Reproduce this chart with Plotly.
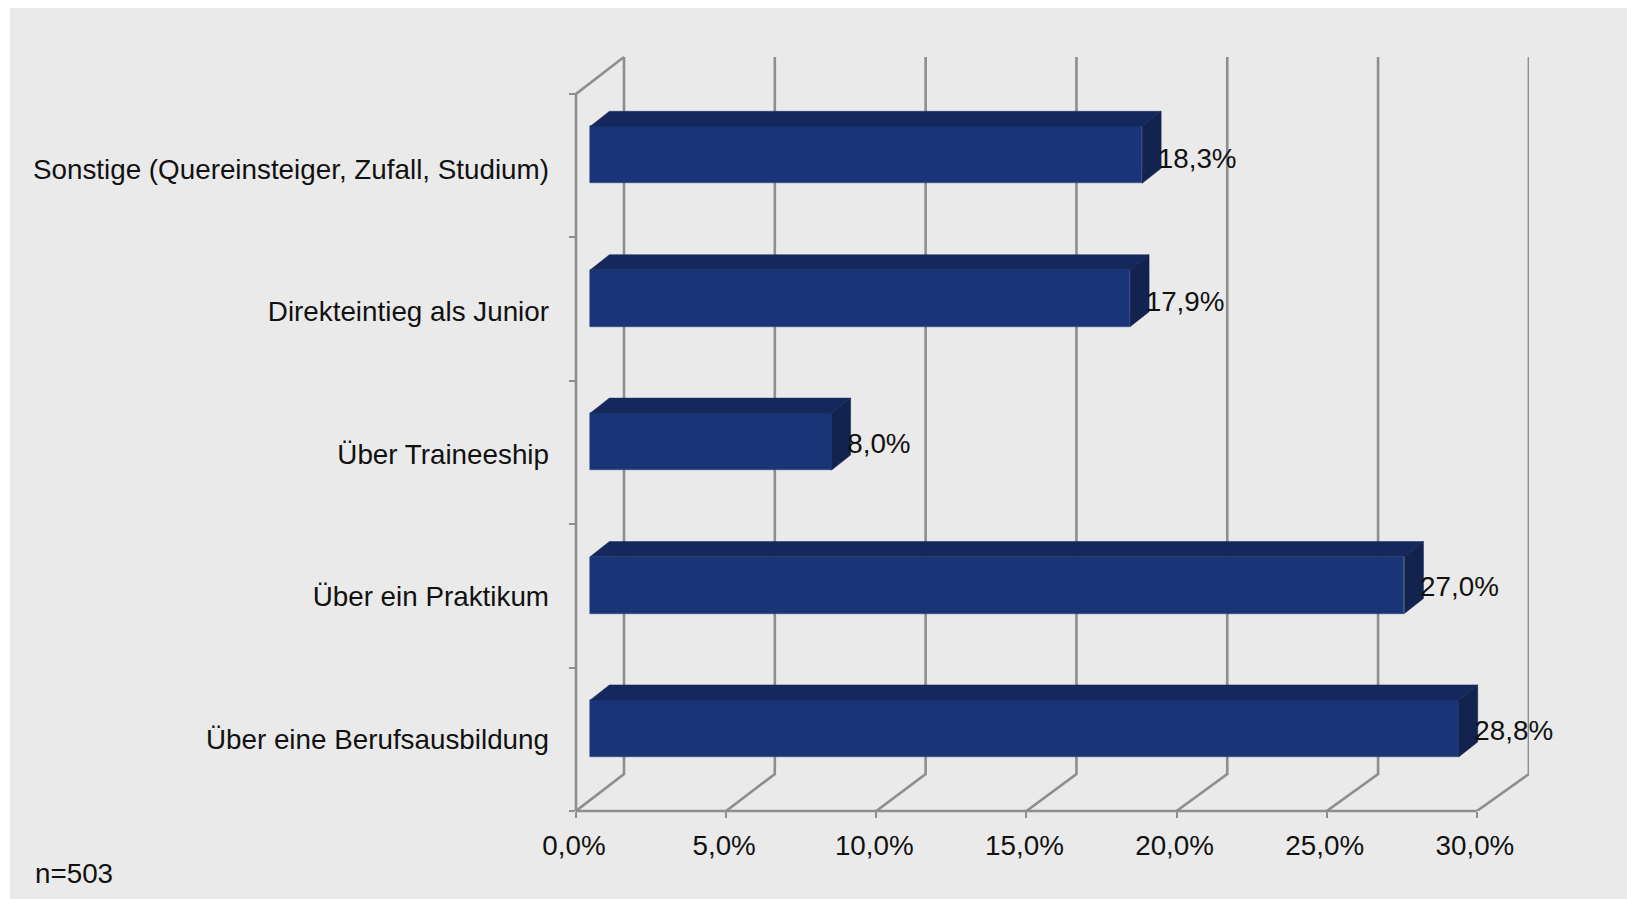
import plotly.graph_objects as go

# ---------- data ----------
categories = ["Über eine Berufsausbildung", "Über ein Praktikum", "Über Traineeship",
              "Direkteintieg als Junior", "Sonstige (Quereinsteiger, Zufall, Studium)"]
values = [28.8, 27.0, 8.0, 17.9, 18.3]
value_labels = ["28,8%", "27,0%", "8,0%", "17,9%", "18,3%"]
x_ticks = [0, 5, 10, 15, 20, 25, 30]
x_tick_labels = ["0,0%", "5,0%", "10,0%", "15,0%", "20,0%", "25,0%", "30,0%"]
note = "n=503"

# ---------- layout constants ----------
W, H = 1627, 899
FRONT_L, FRONT_B, PX_PER_X, PX_PER_Y = 576, 811, 30.03, 143.4
BACK_R, BACK_T = 1529, 56
X_MAX = (BACK_R - FRONT_L) / PX_PER_X
Y_MIN = -0.5
Y_MAX = Y_MIN + (FRONT_B - BACK_T) / PX_PER_Y
Y_TOP = 4.5

DEPTH_Y = 37 / PX_PER_Y
BAR_BASE = 14.4 / PX_PER_X
BAR_SCALE = 1.004
BAR_SHIFT = 0.076
BAR_WIDTH = 57 / PX_PER_Y
BAR_DX = 19 / PX_PER_X
BAR_DY = 15 / PX_PER_Y
LABEL_GAP = 0.52
LABEL_DY = [-0.03, -0.026, -0.03, -0.044, -0.044]
TICK_LABEL_SPREAD = 0.9946

FONT = "Liberation Sans, Arial, sans-serif"
FONT_SIZE = 27.8
PANEL = "#eaeaea"
GRID = "#8e8e8e"
FRONT = "#193577"
TOP = "#14285c"
SIDE = "#12234f"
TEXT = "#111111"


def back_dx(v):
    return (48 + 0.1333 * v) / PX_PER_X


def grid_path(v):
    d = back_dx(v)
    return f"M {v} {Y_MIN} L {v + d} {Y_MIN + DEPTH_Y} L {v + d} {Y_TOP + DEPTH_Y}"


def paper_x(v):
    return v / X_MAX


def paper_y(y):
    return (y - Y_MIN) / (Y_MAX - Y_MIN)


shapes = [dict(type="rect", xref="paper", yref="paper", layer="below",
               x0=(10 - FRONT_L) / (BACK_R - FRONT_L), x1=(W - FRONT_L) / (BACK_R - FRONT_L),
               y0=(FRONT_B - H) / (FRONT_B - BACK_T), y1=(FRONT_B - 8) / (FRONT_B - BACK_T),
               fillcolor=PANEL, line_width=0)]
line_style = dict(color=GRID, width=2.6)
for v in x_ticks:
    shapes.append(dict(type="path", xref="x", yref="y", layer="below",
                       path=grid_path(v), line=line_style))
# floor front edge, left wall front edge and its top slant (paper refs so they are not clipped)
shapes.append(dict(type="line", xref="paper", yref="paper", layer="below",
                   x0=paper_x(0), x1=paper_x(x_ticks[-1]), y0=paper_y(Y_MIN), y1=paper_y(Y_MIN),
                   line=line_style))
shapes.append(dict(type="path", xref="paper", yref="paper", layer="below",
                   path=f"M {paper_x(0)} {paper_y(Y_MIN)} L {paper_x(0)} {paper_y(Y_TOP)} "
                        f"L {paper_x(back_dx(0))} {paper_y(Y_TOP + DEPTH_Y)}",
                   line=line_style))

fig = go.Figure()
ys = [i + BAR_SHIFT for i in range(len(values))]
ends = [BAR_BASE + v * BAR_SCALE for v in values]

fig.add_trace(go.Bar(x=[v * BAR_SCALE for v in values], y=ys, base=BAR_BASE, orientation="h",
                     width=BAR_WIDTH, marker=dict(color=FRONT, line=dict(color="#2b4480", width=0.5)),
                     showlegend=False, hoverinfo="skip"))

for y, e in zip(ys, ends):
    t, b = y + BAR_WIDTH / 2, y - BAR_WIDTH / 2
    fig.add_trace(go.Scatter(x=[BAR_BASE, e, e + BAR_DX, BAR_BASE + BAR_DX, BAR_BASE],
                             y=[t, t, t + BAR_DY, t + BAR_DY, t],
                             mode="lines", fill="toself", fillcolor=TOP,
                             line=dict(color=TOP, width=0.5), showlegend=False, hoverinfo="skip"))
    fig.add_trace(go.Scatter(x=[e, e + BAR_DX, e + BAR_DX, e, e],
                             y=[t, t + BAR_DY, b + BAR_DY, b, t],
                             mode="lines", fill="toself", fillcolor=SIDE,
                             line=dict(color=SIDE, width=0.5), showlegend=False, hoverinfo="skip"))

fig.add_trace(go.Scatter(x=[e + LABEL_GAP for e in ends],
                         y=[y + d for y, d in zip(ys, LABEL_DY)],
                         mode="text", text=value_labels, textposition="middle right",
                         textfont=dict(family=FONT, size=FONT_SIZE, color=TEXT),
                         cliponaxis=False, showlegend=False, hoverinfo="skip"))

fig.add_annotation(text=note, xref="paper", yref="paper", showarrow=False,
                   x=(33 - FRONT_L) / (BACK_R - FRONT_L), xanchor="left",
                   y=(FRONT_B - 873) / (FRONT_B - BACK_T), yanchor="middle",
                   font=dict(family=FONT, size=FONT_SIZE, color=TEXT))

fig.update_layout(
    width=W, height=H,
    margin=dict(l=FRONT_L, r=W - BACK_R, t=BACK_T, b=H - FRONT_B, pad=0),
    paper_bgcolor="white", plot_bgcolor="rgba(0,0,0,0)",
    bargap=0, shapes=shapes,
    font=dict(family=FONT, size=FONT_SIZE, color=TEXT),
    xaxis=dict(range=[0, X_MAX], tickmode="array", tickvals=x_ticks, ticktext=x_tick_labels,
               ticks="outside", ticklen=6, tickwidth=2, tickcolor=GRID,
               showgrid=False, zeroline=False, showline=False, ticklabelstandoff=4,
               ticklabelshift=-2,
               tickfont=dict(family=FONT, size=FONT_SIZE, color=TEXT)),
    yaxis=dict(range=[Y_MIN, Y_MAX], tickmode="array",
               tickvals=[i * TICK_LABEL_SPREAD for i in range(len(categories))], ticktext=categories,
               ticks="", ticklabelstandoff=26,
               showgrid=False, zeroline=False, showline=False,
               minor=dict(tickmode="array",
                          tickvals=[i - 0.5 for i in range(len(categories) + 1)],
                          ticks="outside", ticklen=6, tickwidth=2, tickcolor=GRID),
               tickfont=dict(family=FONT, size=FONT_SIZE, color=TEXT)),
)

fig.write_html("out.html", config={"displayModeBar": False},
               post_script="document.body.style.margin='0';document.body.style.overflow='hidden';")
